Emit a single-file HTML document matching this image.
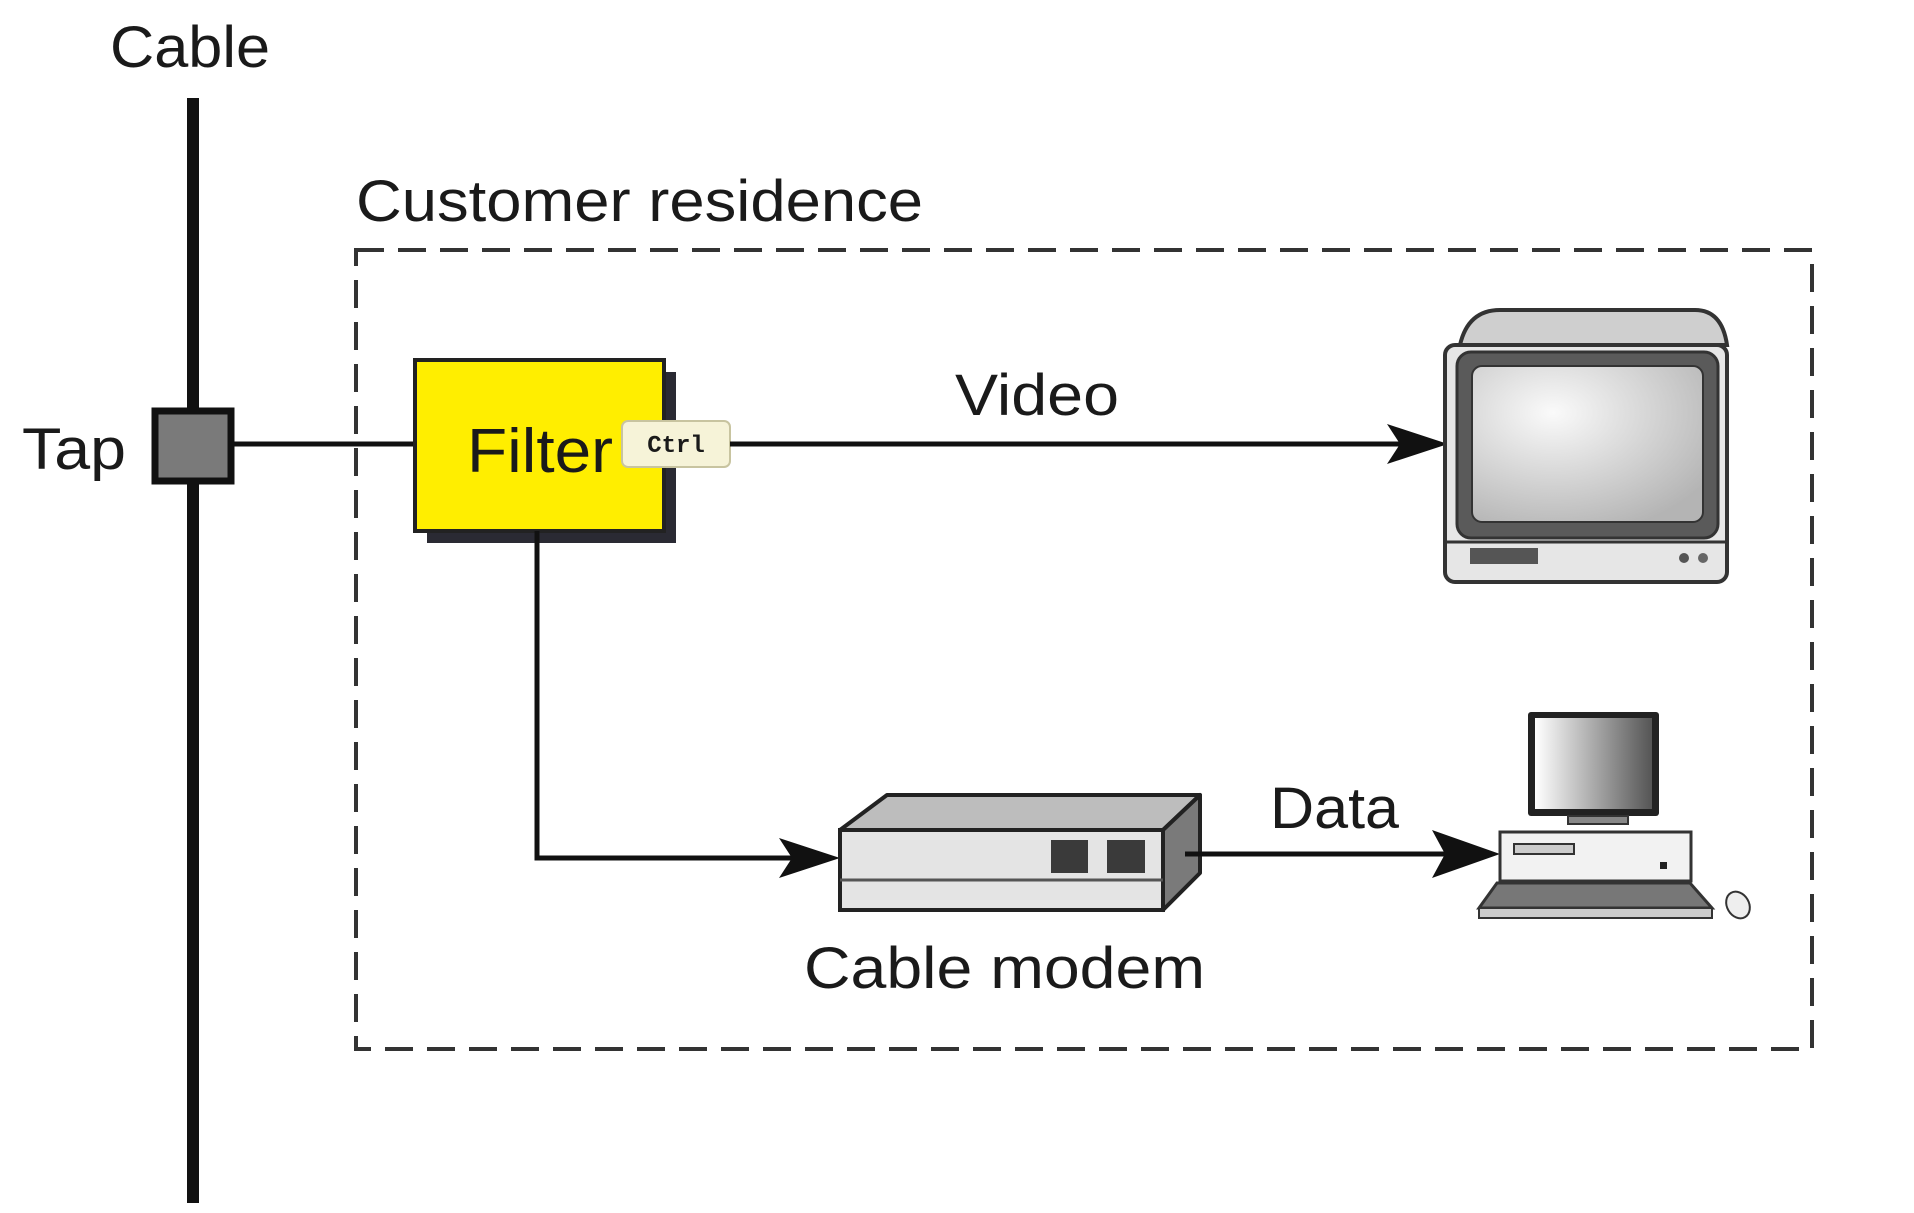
<!DOCTYPE html>
<html><head><meta charset="utf-8"><style>
html,body{margin:0;padding:0;background:#fff;}
svg{display:block;}
text{font-family:"Liberation Sans",sans-serif;fill:#1a1a1a;}
</style></head><body>
<svg width="1914" height="1213" viewBox="0 0 1914 1213" xmlns="http://www.w3.org/2000/svg">
<defs>
<radialGradient id="scr" cx="0.35" cy="0.3" r="0.8"><stop offset="0" stop-color="#fafafa"/><stop offset="1" stop-color="#b4b4b4"/></radialGradient>
<linearGradient id="mon" x1="0" x2="1"><stop offset="0" stop-color="#fff"/><stop offset="1" stop-color="#555"/></linearGradient>
</defs>
<rect width="1914" height="1213" fill="#fff"/>
<text x="110" y="67" font-size="58" textLength="160" lengthAdjust="spacingAndGlyphs">Cable</text>
<line x1="193" y1="98" x2="193" y2="1203" stroke="#111" stroke-width="12"/>
<text x="22" y="469" font-size="58" textLength="104" lengthAdjust="spacingAndGlyphs">Tap</text>
<rect x="155" y="411" width="76" height="70" fill="#7a7a7a" stroke="#111" stroke-width="7"/>
<line x1="233" y1="444" x2="415" y2="444" stroke="#111" stroke-width="5"/>
<text x="356" y="221" font-size="58" textLength="567" lengthAdjust="spacingAndGlyphs">Customer residence</text>
<rect x="356" y="250" width="1456" height="799" fill="none" stroke="#333" stroke-width="4" stroke-dasharray="28,14"/>
<rect x="427" y="372" width="249" height="171" fill="#2a2a33"/>
<rect x="415" y="360" width="249" height="171" fill="#ffee00" stroke="#222" stroke-width="4"/>
<text x="467" y="472" font-size="62" textLength="146" lengthAdjust="spacingAndGlyphs">Filter</text>
<rect x="622" y="421" width="108" height="46" rx="6" fill="#f6f3d8" stroke="#c8c4a0" stroke-width="2"/>
<text x="676" y="452" font-size="24" text-anchor="middle" style="font-family:'Liberation Mono',monospace" font-weight="bold">Ctrl</text>
<line x1="730" y1="444" x2="1400" y2="444" stroke="#111" stroke-width="5"/>
<path d="M1448 444 L1387 424 L1400 444 L1387 464 Z" fill="#111"/>
<text x="955" y="415" font-size="58" textLength="164" lengthAdjust="spacingAndGlyphs">Video</text>
<path d="M1460 345 Q1468 310 1500 310 L1695 310 Q1722 310 1727 345 Z" fill="#cfcfcf" stroke="#333" stroke-width="4"/>
<rect x="1445" y="345" width="282" height="237" rx="10" fill="#e6e6e6" stroke="#333" stroke-width="4"/>
<rect x="1457" y="352" width="261" height="186" rx="14" fill="#5a5a5a" stroke="#333" stroke-width="3"/>
<rect x="1472" y="366" width="231" height="156" rx="10" fill="url(#scr)" stroke="#333" stroke-width="2"/>
<line x1="1447" y1="542" x2="1725" y2="542" stroke="#333" stroke-width="3"/>
<rect x="1470" y="548" width="68" height="16" fill="#555"/>
<circle cx="1684" cy="558" r="5" fill="#555"/><circle cx="1703" cy="558" r="5" fill="#666"/>
<polyline points="537,531 537,858 800,858" fill="none" stroke="#111" stroke-width="5"/>
<path d="M840 858 L779 838 L792 858 L779 878 Z" fill="#111"/>
<path d="M840 830 L887 795 L1200 795 L1163 830 Z" fill="#bdbdbd" stroke="#222" stroke-width="4" stroke-linejoin="round"/>
<path d="M1163 830 L1200 795 L1200 873 L1163 910 Z" fill="#7a7a7a" stroke="#222" stroke-width="4" stroke-linejoin="round"/>
<rect x="840" y="830" width="323" height="80" fill="#e4e4e4" stroke="#222" stroke-width="4"/>
<line x1="840" y1="880" x2="1163" y2="880" stroke="#555" stroke-width="3"/>
<rect x="1051" y="840" width="37" height="33" fill="#3a3a3a"/>
<rect x="1107" y="840" width="38" height="33" fill="#3a3a3a"/>
<text x="804" y="988" font-size="58" textLength="401" lengthAdjust="spacingAndGlyphs">Cable modem</text>
<line x1="1185" y1="854" x2="1460" y2="854" stroke="#111" stroke-width="5"/>
<path d="M1500 854 L1432 830 L1445 854 L1432 878 Z" fill="#111"/>
<text x="1270" y="828" font-size="58" textLength="129" lengthAdjust="spacingAndGlyphs">Data</text>
<rect x="1528" y="712" width="131" height="104" rx="3" fill="#222"/>
<rect x="1535" y="718" width="117" height="91" fill="url(#mon)"/>
<rect x="1568" y="816" width="60" height="8" fill="#888" stroke="#333" stroke-width="2"/>
<rect x="1500" y="832" width="191" height="49" fill="#f2f2f2" stroke="#333" stroke-width="3"/>
<rect x="1514" y="844" width="60" height="10" fill="#ccc" stroke="#333" stroke-width="2"/>
<rect x="1660" y="862" width="7" height="7" fill="#222"/>
<path d="M1497 883 L1690 883 L1712 908 L1479 908 Z" fill="#777" stroke="#333" stroke-width="3"/>
<rect x="1479" y="908" width="233" height="10" fill="#ccc" stroke="#333" stroke-width="2"/>
<ellipse cx="1738" cy="905" rx="11" ry="14" fill="#eee" stroke="#333" stroke-width="2" transform="rotate(-30 1738 905)"/>
</svg>
</body></html>
